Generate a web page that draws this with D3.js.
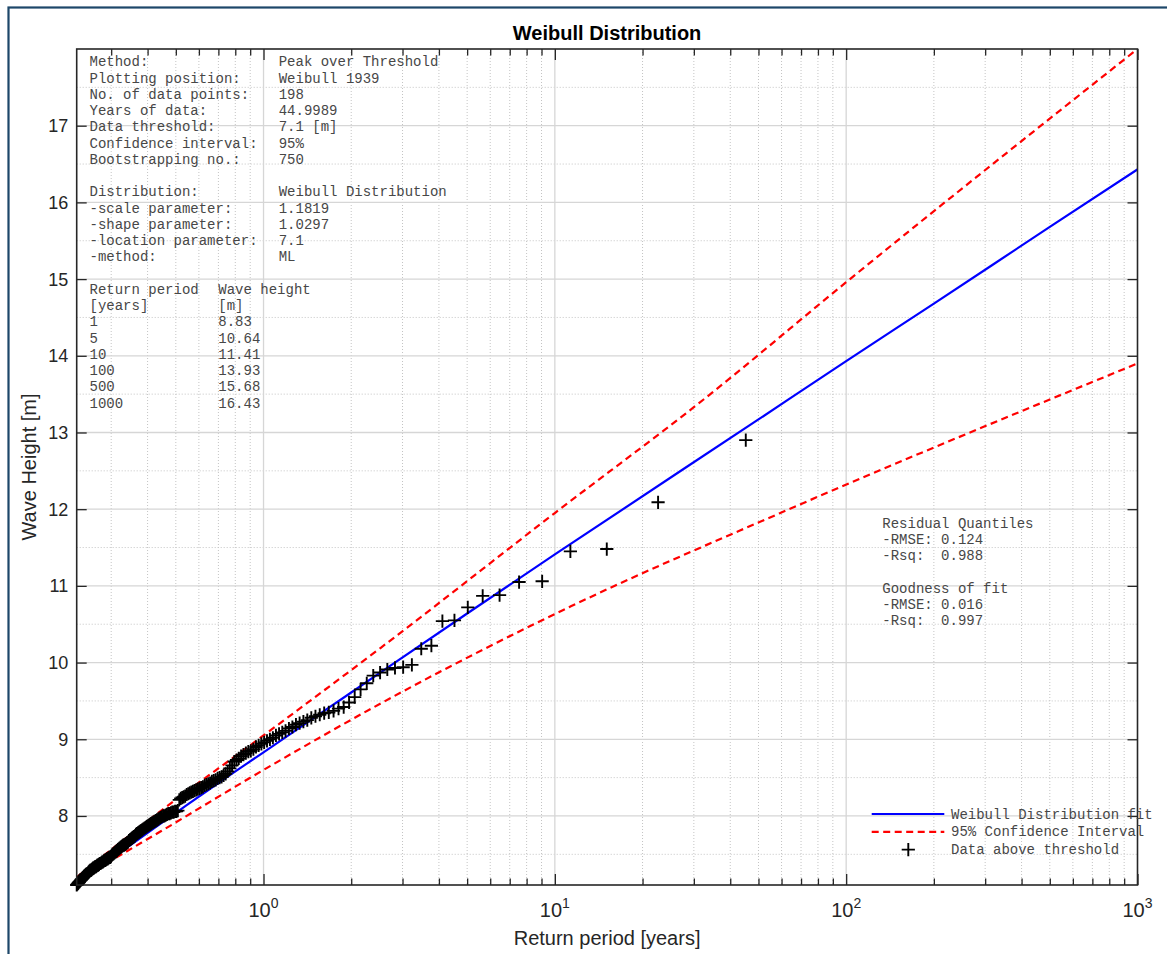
<!DOCTYPE html>
<html><head><meta charset="utf-8">
<script src="https://cdn.jsdelivr.net/npm/d3@7"></script>
<style>
body{margin:0;background:#fff}
svg{display:block}
.mono{font-family:"Courier New","Liberation Mono",monospace;font-size:14px;fill:#474747}
.sans{font-family:Arial,"Liberation Sans",Helvetica,sans-serif}
</style>
</head><body>
<svg id="chart" width="1167" height="954"></svg>
<script>
// ---------------- data ----------------
const nData = 198;
const yearsOfData = 44.9989;
// wave heights above threshold, sorted from largest (rank 1) to smallest (rank 198)
const waveHeights = [
 12.90, 12.09, 11.48, 11.45, 11.06, 11.05, 10.88, 10.87, 10.72, 10.55,
 10.54, 10.22, 10.18, 9.97, 9.94, 9.93, 9.91, 9.87, 9.83, 9.73,
 9.65, 9.55, 9.48, 9.42, 9.40, 9.37, 9.35, 9.34, 9.32, 9.30,
 9.28, 9.25, 9.23, 9.21, 9.19, 9.16, 9.14, 9.11, 9.09, 9.07,
 9.05, 9.02, 9.00, 8.98, 8.96, 8.94, 8.92, 8.90, 8.87, 8.85,
 8.84, 8.82, 8.80, 8.78, 8.75, 8.73, 8.71, 8.66, 8.62, 8.58,
 8.55, 8.53, 8.51, 8.50, 8.49, 8.47, 8.46, 8.45, 8.43, 8.42,
 8.41, 8.40, 8.38, 8.37, 8.36, 8.35, 8.34, 8.33, 8.32, 8.31,
 8.30, 8.29, 8.28, 8.26, 8.25, 8.24, 8.23, 8.21,
 8.07, 8.06, 8.06, 8.05, 8.05, 8.04, 8.03, 8.03, 8.02, 8.01, 8.00, 8.00, 7.99, 7.98,
 7.97, 7.96, 7.95, 7.94, 7.93, 7.92, 7.91, 7.90, 7.89, 7.88, 7.87, 7.86, 7.85, 7.84, 7.83,
 7.82, 7.81, 7.80, 7.79, 7.78, 7.77, 7.76, 7.74, 7.73, 7.72, 7.71, 7.70, 7.69, 7.68, 7.66,
 7.65, 7.64, 7.63, 7.62, 7.62, 7.61, 7.60, 7.59, 7.58, 7.57, 7.56, 7.55, 7.54, 7.53, 7.52, 7.51, 7.50, 7.49, 7.47,
 7.46, 7.46, 7.45, 7.44, 7.44, 7.43, 7.42, 7.42, 7.41, 7.40, 7.40, 7.39, 7.38, 7.38, 7.37, 7.36, 7.36, 7.35, 7.34, 7.34, 7.33,
 7.32, 7.32, 7.31, 7.30, 7.29, 7.29, 7.28, 7.27, 7.26, 7.25, 7.24, 7.24, 7.23, 7.22, 7.21, 7.20, 7.19, 7.18, 7.17, 7.16,
 7.15, 7.14, 7.13, 7.12, 7.11, 7.10
];
// Weibull (1939) plotting position: T = (N+1)/rank / (events per year)
const returnPeriods = waveHeights.map((h, i) => (nData + 1) / (i + 1) / (nData / yearsOfData));

const fitReturnPeriods = [0.2284, 0.25, 0.3, 0.4, 0.5, 0.7, 1, 2, 5, 10, 50, 100, 200, 500, 1000];
const fitWaveHeights   = [7.11, 7.22, 7.44, 7.78, 8.04, 8.43, 8.83, 9.61, 10.64, 11.41, 13.17, 13.93, 14.68, 15.68, 16.43];

const ciUpperReturnPeriods = [0.2284, 0.3, 0.432, 1, 2.52, 10, 32.4, 100, 1000];
const ciUpperWaveHeights   = [7.20, 7.56, 8.03, 9.05, 10.19, 11.95, 13.43, 14.96, 18.0];
const ciLowerReturnPeriods = [0.2284, 0.316, 0.444, 1, 2.8, 11.3, 59.4, 1000];
const ciLowerWaveHeights   = [7.15, 7.47, 7.80, 8.60, 9.56, 10.73, 11.95, 13.90];

const xMajorTicks = [1, 10, 100, 1000];
const xTickExponents = ["0", "1", "2", "3"];
const yTicks = [8, 9, 10, 11, 12, 13, 14, 15, 16, 17];
const yMinorTicks = [7.5, 8.5, 9.5, 10.5, 11.5, 12.5, 13.5, 14.5, 15.5, 16.5, 17.5];

const infoLabels = ["Method:", "Plotting position:", "No. of data points:", "Years of data:", "Data threshold:",
  "Confidence interval:", "Bootstrapping no.:", "", "Distribution:", "-scale parameter:", "-shape parameter:",
  "-location parameter:", "-method:"];
const infoValues = ["Peak over Threshold", "Weibull 1939", "198", "44.9989", "7.1 [m]", "95%", "750", "",
  "Weibull Distribution", "1.1819", "1.0297", "7.1", "ML"];
const tableReturnLabels = ["Return period", "[years]", "1", "5", "10", "100", "500", "1000"];
const tableHeightLabels = ["Wave height", "[m]", "8.83", "10.64", "11.41", "13.93", "15.68", "16.43"];
const fitStatsLines = ["Residual Quantiles", "-RMSE: 0.124", "-Rsq:  0.988", "", "Goodness of fit", "-RMSE: 0.016", "-Rsq:  0.997"];
const legendLabels = ["Weibull Distribution fit", "95% Confidence Interval", "Data above threshold"];

// ---------------- drawing ----------------
const keepSpaces = s => s.replace(/ /g, "\u00A0");
const svg = d3.select("#chart");
const P = {left: 76.7, right: 1137.5, top: 49, bottom: 885};

svg.append("rect").attr("width", 1167).attr("height", 954).attr("fill", "#fff");
// outer figure frame
svg.append("rect").attr("x", 8.5).attr("y", 7.5).attr("width", 1200).attr("height", 1000)
  .attr("fill", "none").attr("stroke", "#1d4769").attr("stroke-width", 2.2);

const x = d3.scaleLog().domain([d3.min(returnPeriods), 1000]).range([P.left, P.right]);
const y = d3.scaleLinear().domain([7.1, 18.0]).range([P.bottom, P.top]);

const allXTicks = x.ticks().filter(t => t > x.domain()[0] + 1e-9);
const isMajor = t => Math.abs(Math.log10(t) - Math.round(Math.log10(t))) < 1e-9;
const xMinorTicks = allXTicks.filter(t => !isMajor(t));

const grid = svg.append("g");
// minor grid (dotted)
grid.selectAll(".gxm").data(xMinorTicks).join("line")
  .attr("x1", d => x(d)).attr("x2", d => x(d)).attr("y1", P.top).attr("y2", P.bottom)
  .attr("stroke", "#c4c4c4").attr("stroke-width", 1).attr("stroke-dasharray", "1,2");
grid.selectAll(".gym").data(yMinorTicks).join("line")
  .attr("y1", d => y(d)).attr("y2", d => y(d)).attr("x1", P.left).attr("x2", P.right)
  .attr("stroke", "#c4c4c4").attr("stroke-width", 1).attr("stroke-dasharray", "1,2");
// major grid
grid.selectAll(".gxM").data(xMajorTicks.slice(0, 3)).join("line")
  .attr("x1", d => x(d)).attr("x2", d => x(d)).attr("y1", P.top).attr("y2", P.bottom)
  .attr("stroke", "#d6d6d6").attr("stroke-width", 1.3);
grid.selectAll(".gyM").data(yTicks).join("line")
  .attr("y1", d => y(d)).attr("y2", d => y(d)).attr("x1", P.left).attr("x2", P.right)
  .attr("stroke", "#d6d6d6").attr("stroke-width", 1.3);

// info texts
const info = svg.append("g").attr("class", "mono");
const lh = 16.25, base0 = 66.3;
infoLabels.forEach((t, i) => {
  if (t) info.append("text").attr("x", 89.5).attr("y", base0 + i * lh).text(keepSpaces(t));
  if (infoValues[i]) info.append("text").attr("x", 278.7).attr("y", base0 + i * lh).text(keepSpaces(infoValues[i]));
});
tableReturnLabels.forEach((t, i) => {
  info.append("text").attr("x", 89.5).attr("y", base0 + (14 + i) * lh).text(keepSpaces(t));
  info.append("text").attr("x", 218.3).attr("y", base0 + (14 + i) * lh).text(keepSpaces(tableHeightLabels[i]));
});
fitStatsLines.forEach((t, i) => {
  if (t) info.append("text").attr("x", 882.3).attr("y", 527.8 + i * lh).text(keepSpaces(t));
});

// lines
const line = d3.line().x(d => x(d[0])).y(d => y(d[1])).curve(d3.curveMonotoneX);
svg.append("clipPath").attr("id", "clip").append("rect")
  .attr("x", P.left).attr("y", P.top).attr("width", P.right - P.left).attr("height", P.bottom - P.top);
const lines = svg.append("g").attr("clip-path", "url(#clip)");
[[ciUpperReturnPeriods, ciUpperWaveHeights], [ciLowerReturnPeriods, ciLowerWaveHeights]].forEach(([t, h]) => {
  lines.append("path").attr("d", line(t.map((v, i) => [v, h[i]])))
    .attr("fill", "none").attr("stroke", "#ff0000").attr("stroke-width", 2.2).attr("stroke-dasharray", "7,4.5");
});
lines.append("path").attr("d", line(fitReturnPeriods.map((v, i) => [v, fitWaveHeights[i]])))
  .attr("fill", "none").attr("stroke", "#0000ff").attr("stroke-width", 2.2);

// data markers
const ms = 6.6;
const plus = (cx, cy) => `M${cx - ms},${cy}H${cx + ms}M${cx},${cy - ms}V${cy + ms}`;
svg.append("g").selectAll("path").data(waveHeights).join("path")
  .attr("d", (d, i) => plus(x(returnPeriods[i]), y(d)))
  .attr("stroke", "#000").attr("stroke-width", 1.9).attr("fill", "none");

// axes (inward ticks on all four sides)
const axisStyle = g => { g.select(".domain").remove(); g.selectAll("line").attr("stroke", "#262626").attr("stroke-width", 1.3); g.selectAll("text").remove(); };
svg.append("g").attr("transform", `translate(0,${P.bottom})`)
  .call(d3.axisBottom(x).tickValues(xMajorTicks).tickSize(-11)).call(axisStyle);
svg.append("g").attr("transform", `translate(0,${P.bottom})`)
  .call(d3.axisBottom(x).tickValues(xMinorTicks).tickSize(-6.5)).call(axisStyle);
svg.append("g").attr("transform", `translate(0,${P.top})`)
  .call(d3.axisTop(x).tickValues(xMajorTicks).tickSize(-11)).call(axisStyle);
svg.append("g").attr("transform", `translate(0,${P.top})`)
  .call(d3.axisTop(x).tickValues(xMinorTicks).tickSize(-6.5)).call(axisStyle);
svg.append("g").attr("transform", `translate(${P.left},0)`)
  .call(d3.axisLeft(y).tickValues(yTicks).tickSize(-10)).call(axisStyle);
svg.append("g").attr("transform", `translate(${P.right},0)`)
  .call(d3.axisRight(y).tickValues(yTicks).tickSize(-10)).call(axisStyle);

// box
svg.append("rect").attr("x", P.left).attr("y", P.top).attr("width", P.right - P.left).attr("height", P.bottom - P.top)
  .attr("fill", "none").attr("stroke", "#262626").attr("stroke-width", 1.6);

// tick labels
const yl = svg.append("g").attr("class", "sans").attr("font-size", 18).attr("fill", "#262626");
yl.selectAll("text").data(yTicks).join("text")
  .attr("x", P.left - 8.5).attr("y", d => y(d) + 6.5).attr("text-anchor", "end").text(d => d);
const xl = svg.append("g").attr("class", "sans").attr("fill", "#262626");
xMajorTicks.forEach((t, i) => {
  const tx = xl.append("text").attr("x", x(t)).attr("y", 917).attr("text-anchor", "middle");
  tx.append("tspan").attr("font-size", 20).text("10");
  tx.append("tspan").attr("font-size", 14).attr("dy", -9).text(xTickExponents[i]);
});

// titles
svg.append("text").attr("class", "sans").attr("x", (P.left + P.right) / 2).attr("y", 39.5)
  .attr("text-anchor", "middle").attr("font-size", 20).attr("font-weight", "bold").attr("fill", "#000")
  .text("Weibull Distribution");
svg.append("text").attr("class", "sans").attr("x", (P.left + P.right) / 2).attr("y", 944.5)
  .attr("text-anchor", "middle").attr("font-size", 20).attr("fill", "#262626").text("Return period [years]");
svg.append("text").attr("class", "sans").attr("transform", `translate(36,${(P.top + P.bottom) / 2}) rotate(-90)`)
  .attr("text-anchor", "middle").attr("font-size", 20).attr("fill", "#262626").text("Wave Height [m]");

// legend
const lg = svg.append("g");
const ly = [814, 831.8, 849.6];
lg.append("line").attr("x1", 871.7).attr("x2", 944.3).attr("y1", ly[0]).attr("y2", ly[0])
  .attr("stroke", "#0000ff").attr("stroke-width", 2.2);
lg.append("line").attr("x1", 871.7).attr("x2", 944.3).attr("y1", ly[1]).attr("y2", ly[1])
  .attr("stroke", "#ff0000").attr("stroke-width", 2.2).attr("stroke-dasharray", "7,4.5");
lg.append("path").attr("d", plus(908.3, ly[2])).attr("stroke", "#000").attr("stroke-width", 1.9);
legendLabels.forEach((t, i) => {
  lg.append("text").attr("class", "mono").attr("x", 951).attr("y", ly[i] + 4.5).text(keepSpaces(t));
});
</script>
</body></html>
